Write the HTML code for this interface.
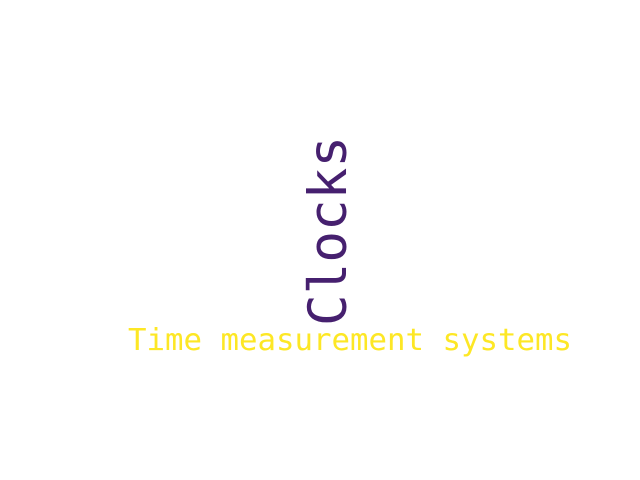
<!DOCTYPE html>
<html><head><meta charset="utf-8"><style>
html,body{margin:0;padding:0;background:#fff;width:640px;height:480px;overflow:hidden}
text{font-family:"DejaVu Sans Mono","Liberation Mono",monospace}
</style></head><body>
<svg width="640" height="480">
<text transform="translate(346,326) rotate(-90)" font-size="52.5" fill="#46206f" textLength="190" lengthAdjust="spacingAndGlyphs">Clocks</text>
<text x="128" y="350" font-size="30.5" fill="#fde725" textLength="444" lengthAdjust="spacingAndGlyphs">Time measurement systems</text>
</svg>
</body></html>
